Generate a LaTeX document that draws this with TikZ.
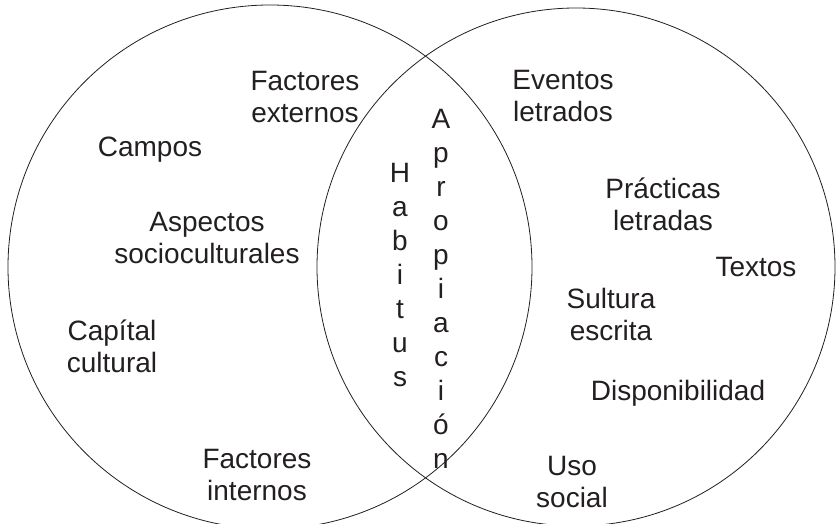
\documentclass[tikz,border=0pt]{standalone}
\usepackage{fontspec}
\setmainfont{Liberation Sans}
\definecolor{tinta}{HTML}{231F20}
\tikzset{
    conjunto/.style={draw=tinta, line width=0.8pt, circle, inner sep=0pt},
    etiqueta/.style={text=tinta, inner sep=0pt, align=center, font=\fontsize{28}{32}\selectfont},
    vertical/.style={etiqueta, font=\fontsize{28}{34}\selectfont}
}
\begin{document}
\begin{tikzpicture}[x=1pt, y=-1pt]
    \useasboundingbox (0,0) rectangle (836,524);
    \node[conjunto, minimum size=524pt] (izq) at (270,267) {};
    \node[conjunto, minimum size=518pt] (der) at (576,267) {};
    \node[etiqueta] (fext) at (305,97) {Factores\\externos};
    \node[etiqueta] (campos) at (150,150) {Campos};
    \node[etiqueta] (aspectos) at (207,238) {Aspectos\\socioculturales};
    \node[etiqueta] (capital) at (112,346) {Capítal\\cultural};
    \node[etiqueta] (fint) at (257,475) {Factores\\internos};
    \node[vertical] (habitus) at (400,275) {H\\a\\b\\i\\t\\u\\s};
    \node[vertical] (apropiacion) at (441,289) {A\\p\\r\\o\\p\\i\\a\\c\\i\\ó\\n};
    \node[etiqueta] (eventos) at (563,96) {Eventos\\letrados};
    \node[etiqueta] (practicas) at (663,204) {Prácticas\\letradas};
    \node[etiqueta] (textos) at (756,267) {Textos};
    \node[etiqueta] (sultura) at (611,314) {Sultura\\escrita};
    \node[etiqueta] (dispo) at (678,393) {Disponibilidad};
    \node[etiqueta] (uso) at (572,482) {Uso\\social};
\end{tikzpicture}
\end{document}
